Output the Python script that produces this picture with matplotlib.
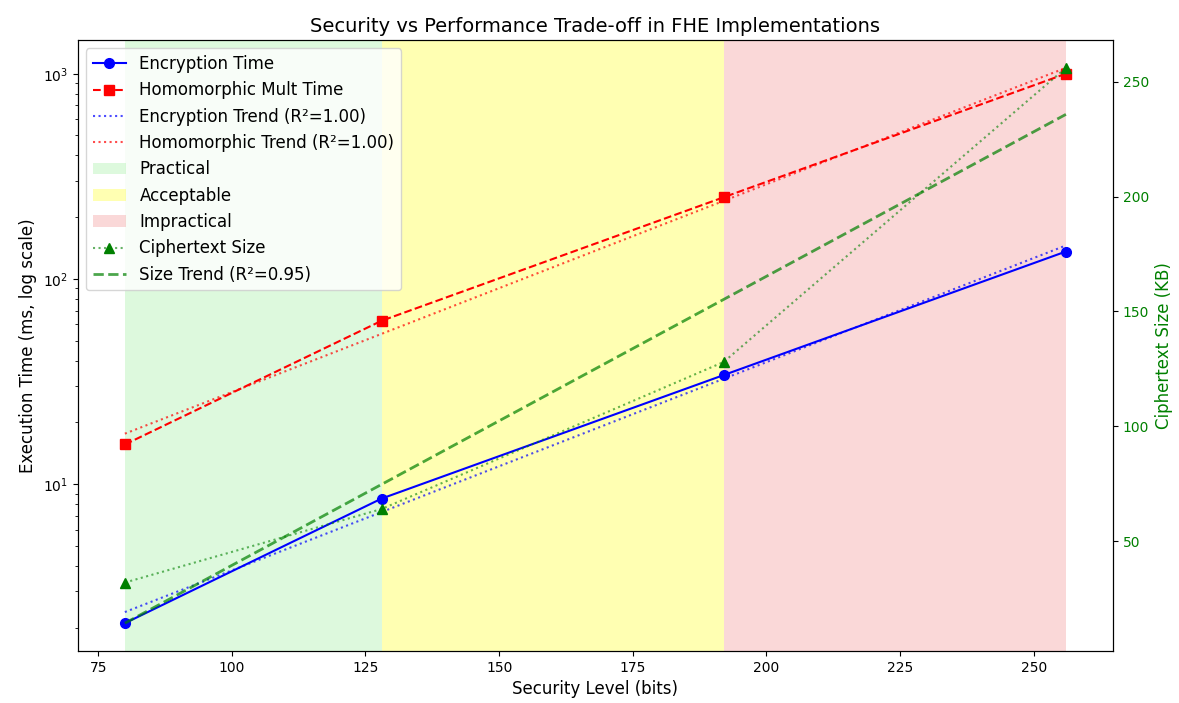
import numpy as np
import matplotlib
matplotlib.use("Agg")
import matplotlib.pyplot as plt

security_bits = [80, 128, 192, 256]
encryption_ms = [2.1, 8.5, 34.0, 136.0]
homomorphic_ms = [15.6, 62.5, 250.0, 1000.0]
ciphertext_kb = [32, 64, 128, 256]
zones = [("Practical", 80, 128, "lightgreen"),
         ("Acceptable", 128, 192, "yellow"),
         ("Impractical", 192, 256, "lightcoral")]

x = np.array(security_bits, dtype=float)

def exp_fit(xv, yv):
    ly = np.log10(yv)
    p = np.polyfit(xv, ly, 1)
    pred = np.polyval(p, xv)
    r2 = 1 - np.sum((ly - pred) ** 2) / np.sum((ly - ly.mean()) ** 2)
    return p, r2

fig, ax1 = plt.subplots(figsize=(11.79, 7.03), dpi=100)
fig.subplots_adjust(left=0.066, right=0.944, top=0.943, bottom=0.074)

ax1.plot(x, encryption_ms, 'b-o', label='Encryption Time', markersize=7)
ax1.plot(x, homomorphic_ms, 'r--s', label='Homomorphic Mult Time', markersize=7)

pe, r2e = exp_fit(x, np.array(encryption_ms))
ph, r2h = exp_fit(x, np.array(homomorphic_ms))
xs = np.linspace(x.min(), x.max(), 100)
ax1.plot(xs, 10 ** np.polyval(pe, xs), 'b:', alpha=0.7, label=f'Encryption Trend (R²={r2e:.2f})')
ax1.plot(xs, 10 ** np.polyval(ph, xs), 'r:', alpha=0.7, label=f'Homomorphic Trend (R²={r2h:.2f})')

for name, a, b, c in zones:
    ax1.axvspan(a, b, color=c, alpha=0.3, label=name, lw=0)

ax1.set_yscale('log')
ax1.set_xlabel('Security Level (bits)', fontsize=12)
ax1.set_ylabel('Execution Time (ms, log scale)', fontsize=12)
ax1.set_title('Security vs Performance Trade-off in FHE Implementations', fontsize=14)

ax2 = ax1.twinx()
ax2.plot(x, ciphertext_kb, color=(0.0, 0.5, 0.0, 0.6), linestyle=':', marker='^',
         markerfacecolor='green', markeredgecolor='green',
         label='Ciphertext Size', markersize=7)
ps = np.polyfit(x, ciphertext_kb, 1)
pred = np.polyval(ps, x)
cy = np.array(ciphertext_kb, dtype=float)
r2s = 1 - np.sum((cy - pred) ** 2) / np.sum((cy - cy.mean()) ** 2)
ax2.plot(x, pred, 'g--', alpha=0.7, label=f'Size Trend (R²={r2s:.2f})', lw=2)
ax2.set_ylabel('Ciphertext Size (KB)', color='green', fontsize=12)
ax2.tick_params(axis='y', labelcolor='green')

h1, l1 = ax1.get_legend_handles_labels()
h2, l2 = ax2.get_legend_handles_labels()
ax2.legend(h1 + h2, l1 + l2, loc='upper left', fontsize=12)

fig.savefig('out.png', dpi=100)
